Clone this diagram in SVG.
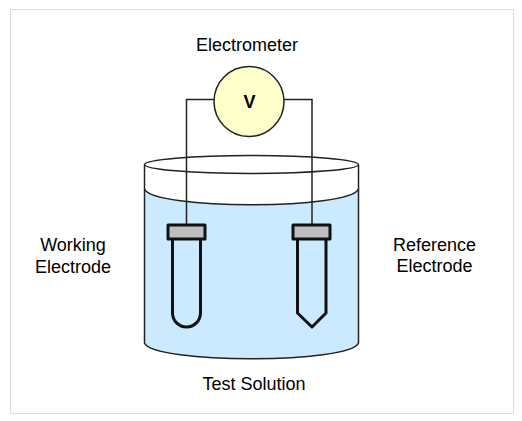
<svg xmlns="http://www.w3.org/2000/svg" width="522" height="421" viewBox="0 0 522 421">
<style>
text{font-family:"Liberation Sans",Arial,sans-serif;font-size:16px;fill:#000;text-anchor:middle}
.l{fill:none;stroke:#222;stroke-width:1.5}
.t{fill:none;stroke:#111;stroke-width:3;stroke-linejoin:round}
.c{fill:#bebebe;stroke:#111;stroke-width:3;stroke-linejoin:round}
.lab{font-size:18px}
</style>
<rect x="10.500" y="9.500" width="503" height="404" fill="#fff" stroke="#dcdcdc"/>
<g id="beaker">
<path d="M144.500 165V343C153 364 350 364 358.500 343V165Z" fill="#cbeaff"/>
<path d="M144.500 165V189C153 210 350 210 358.500 189V165Z" fill="#fff"/>
</g>
<g id="connectors">
<path class="l" d="M215 99.500H186.500V224M284 99.500H312V224"/>
</g>
<g id="beaker-outline">
<path class="l" d="M144.500 165V343C153 364 350 364 358.500 343V165"/>
<path class="l" d="M144.500 189C153 210 350 210 358.500 189"/>
<ellipse class="l" cx="251.500" cy="164.500" rx="107" ry="9"/>
</g>
<g id="electrometer">
<circle cx="249" cy="101.500" r="35" fill="#ffffcc" stroke="#222" stroke-width="1.500"/>
<text class="lab" x="249.500" y="108" style="font-weight:700">V</text>
<text class="lab" x="247" y="50.500">Electrometer</text>
</g>
<g id="working-electrode">
<path class="t" d="M172.500 239V313A14 14 0 0 0 200.500 313V239"/>
<rect class="c" x="168" y="225" width="37" height="14"/>
<text class="lab" x="73" y="251">Working</text>
<text class="lab" x="73" y="273">Electrode</text>
</g>
<g id="reference-electrode">
<path class="t" d="M297.500 239V313L312 327L326 313V239"/>
<rect class="c" x="293" y="225" width="37" height="14"/>
<text class="lab" x="434.500" y="251">Reference</text>
<text class="lab" x="434.500" y="272">Electrode</text>
</g>
<g id="test-solution">
<text class="lab" x="254" y="390">Test Solution</text>
</g>
</svg>
